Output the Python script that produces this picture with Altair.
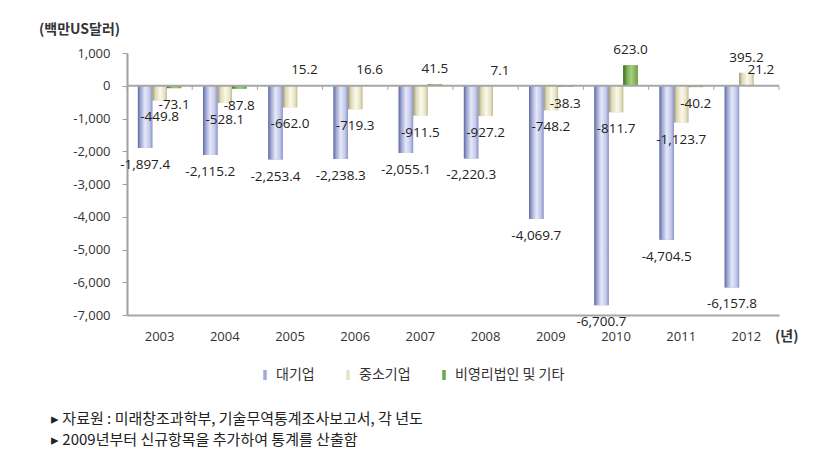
import altair as alt
import pandas as pd

years = ["2003", "2004", "2005", "2006", "2007", "2008", "2009", "2010", "2011", "2012"]
series = ["대기업", "중소기업", "비영리법인 및 기타"]
large = [-1897.4, -2115.2, -2253.4, -2238.3, -2055.1, -2220.3, -4069.7, -6700.7, -4704.5, -6157.8]
sme = [-449.8, -528.1, -662.0, -719.3, -911.5, -927.2, -748.2, -811.7, -1123.7, 395.2]
other = [-73.1, -87.8, 15.2, 16.6, 41.5, 7.1, -38.3, 623.0, -40.2, 21.2]
y_ticks = [-7000, -6000, -5000, -4000, -3000, -2000, -1000, 0, 1000]
notes = ["▸ 자료원 : 미래창조과학부, 기술무역통계조사보고서, 각 년도",
         "▸ 2009년부터 신규항목을 추가하여 통계를 산출함"]

rows = []
for s, vals in zip(series, [large, sme, other]):
    for yr, v in zip(years, vals):
        rows.append({"year": yr, "series": s, "value": v})
df = pd.DataFrame(rows)

NUM_FONT = "Open Sans"
KR_FONT = "Noto Sans CJK KR"

x = alt.X("year:N", sort=years,
          scale=alt.Scale(domain=years, paddingInner=0, paddingOuter=0),
          axis=alt.Axis(title=None, labelAngle=0, ticks=False, domainColor="#a6a6a6",
                        domainWidth=2, labelFont=NUM_FONT, labelFontSize=13,
                        labelColor="#333333", labelPadding=15))
xoff = alt.XOffset("series:N", sort=series,
                   scale=alt.Scale(domain=series, paddingInner=0, paddingOuter=0.75))
yscale = alt.Scale(domain=[-7000, 1000], nice=False, zero=False)
yaxis = alt.Axis(title=None, values=y_ticks, tickCount=9, grid=False, labelOverlap=False,
                 labelExpr="replace(format(datum.value, ','), '\u2212', '-')",
                 domainColor="#a0a0a0", domainWidth=2, tickColor="#a0a0a0",
                 tickSize=5, labelFont=NUM_FONT, labelFontSize=13,
                 labelColor="#333333", labelPadding=12)
y = alt.Y("value:Q", scale=yscale, axis=yaxis)

base = alt.Chart(df).transform_calculate(
    label="replace(format(datum.value, ',.1f'), '\u2212', '-')"
)

legend_bars = base.mark_bar().encode(
    x=x, xOffset=xoff, y=y,
    color=alt.Color("series:N", sort=series,
                    scale=alt.Scale(domain=series, range=["#a3aad8", "#e6e2c6", "#6aa84f"]),
                    legend=alt.Legend(orient="none", legendX=131, legendY=315,
                                      direction="horizontal", title=None,
                                      symbolType="M-0.35,-1H0.35V1H-0.35Z",
                                      symbolSize=100, symbolStrokeWidth=0,
                                      labelFont=KR_FONT, labelFontSize=14,
                                      labelColor="#333333", columnPadding=26)),
)

grads = {
    "대기업": [("#5f6a9e", 0), ("#a0a8d4", 0.2), ("#e6e9f8", 0.5), ("#c3c9ea", 0.8), ("#8c95c6", 1)],
    "중소기업": [("#9b9774", 0), ("#dcd8b8", 0.2), ("#fbf9ea", 0.55), ("#e6e1c2", 0.85), ("#bdb78f", 1)],
    "비영리법인 및 기타": [("#3f6a24", 0), ("#7fb558", 0.3), ("#a6d07e", 0.55), ("#6e9f48", 1)],
}

grad_layers = []
for s in series:
    g = alt.Gradient(gradient="linear", x1=0, x2=1, y1=0, y2=0,
                     stops=[alt.GradientStop(color=c, offset=o) for c, o in grads[s]])
    grad_layers.append(
        base.transform_filter(alt.datum.series == s).mark_bar(color=g).encode(
            x=x, xOffset=xoff, y=y)
    )

zero = base.transform_filter(
    (alt.datum.year == years[0]) & (alt.datum.series == series[0])
).transform_calculate(z="0").mark_rule(color="#a6a6a6", strokeWidth=2).encode(
    y=alt.Y("z:Q", scale=yscale, axis=yaxis))

ticks_start = base.transform_filter(alt.datum.series == series[0]).transform_calculate(
    z="0", z2="-130").mark_rule(color="#a6a6a6", strokeWidth=1).encode(
    x=alt.X("year:N", sort=years, bandPosition=0),
    y=alt.Y("z:Q", scale=yscale, axis=yaxis), y2="z2:Q")
ticks_end = base.transform_filter(
    (alt.datum.year == years[-1]) & (alt.datum.series == series[0])
).transform_calculate(z="0", z2="-130").mark_rule(color="#a6a6a6", strokeWidth=1).encode(
    x=alt.X("year:N", sort=years, bandPosition=1),
    y=alt.Y("z:Q", scale=yscale, axis=yaxis), y2="z2:Q")

neg_text = base.transform_filter(alt.datum.value < 0).mark_text(
    dy=17, font=NUM_FONT, fontSize=13.5, color="#222222", baseline="middle").encode(
    x=x, xOffset=xoff, y=y, text="label:N")
pos_text = base.transform_filter(alt.datum.value >= 0).mark_text(
    dy=-15, font=NUM_FONT, fontSize=13.5, color="#222222", baseline="middle").encode(
    x=x, xOffset=xoff, y=y, text="label:N")

one = pd.DataFrame({"a": [0]})
title_txt = alt.Chart(one).mark_text(align="left", baseline="middle", font=KR_FONT,
                                     fontSize=14, fontWeight="bold", color="#333333").encode(
    x=alt.value(-88), y=alt.value(-23), text=alt.value("(백만US달러)"))
unit_txt = alt.Chart(one).mark_text(align="left", baseline="middle", font=KR_FONT,
                                    fontSize=14, fontWeight="bold", color="#333333").encode(
    x=alt.value(648), y=alt.value(284), text=alt.value("(년)"))
note1 = alt.Chart(one).mark_text(align="left", baseline="middle", font=KR_FONT,
                                 fontSize=15, color="#222222").encode(
    x=alt.value(-76), y=alt.value(366), text=alt.value(notes[0]))
note2 = alt.Chart(one).mark_text(align="left", baseline="middle", font=KR_FONT,
                                 fontSize=15, color="#222222").encode(
    x=alt.value(-76), y=alt.value(387), text=alt.value(notes[1]))

chart = alt.layer(
    legend_bars, *grad_layers, zero, ticks_start, ticks_end, neg_text, pos_text,
    title_txt, unit_txt, note1, note2
).properties(
    width=652, height=262,
    padding={"left": 127, "top": 53, "right": 54, "bottom": 161},
    autosize=alt.AutoSizeParams(type="none"),
    background="white",
).configure_view(stroke=None)

chart.save("out.html", embed_options={"renderer": "svg", "actions": False})
